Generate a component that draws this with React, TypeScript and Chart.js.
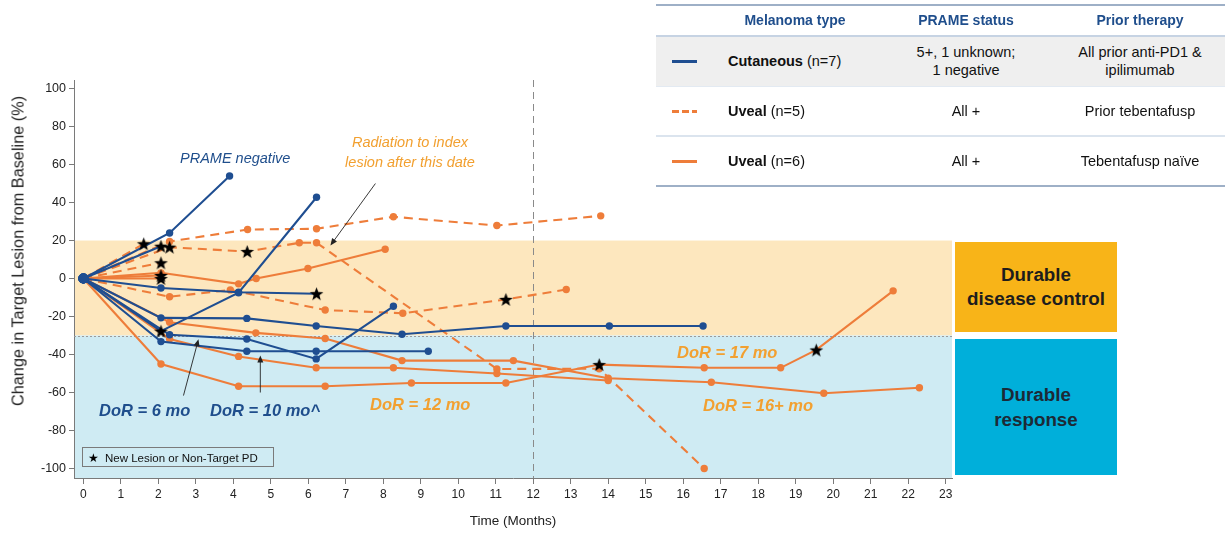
import React, { useEffect, useRef } from "react";
import { Chart, registerables } from "chart.js";
Chart.register(...registerables);

const FONT = 'Arial, "Liberation Sans", Helvetica, sans-serif';
const BLUE = "#1f4e91";
const ORANGE = "#ee7d3a";
const AMBER_TEXT = "#f2a030";

// ---- Data: [months, % change] ----
// Cutaneous (n=7) – solid blue
const cutaneous1: [number, number][] = [[0, 0], [2.3, 24], [3.9, 54]]; // PRAME negative
const cutaneous2: [number, number][] = [[0, 0], [2.07, -27.7], [4.14, -7.5], [6.22, 42.8]];
const cutaneous3: [number, number][] = [[0, 0], [2.07, -5], [4.14, -7.2], [6.22, -8]];
const cutaneous4: [number, number][] = [[0, 0], [2.07, -20.7], [4.36, -21], [6.21, -25], [8.5, -29.3], [11.27, -25], [14.03, -25], [16.53, -25]];
const cutaneous5: [number, number][] = [[0, 0], [2.3, -29.6], [4.36, -31.8], [6.21, -42.3], [8.27, -14.6]];
const cutaneous6: [number, number][] = [[0, 0], [2.07, -33.2], [4.36, -38.3], [6.21, -38.3], [9.2, -38.3]];
const cutaneous7: [number, number][] = [[0, 0], [2.07, 17]];

// Uveal prior tebentafusp (n=5) – dashed orange
const uvealPrior1: [number, number][] = [[0, 0], [2.3, 19.5], [4.38, 25.8], [6.22, 26.2], [8.27, 32.5], [11.03, 27.9], [13.8, 33]];
const uvealPrior2: [number, number][] = [[0, 0], [2.3, 16.5], [4.37, 14.2], [5.76, 18.8], [6.22, 18.8], [11.03, -47.6], [13.76, -47.5], [16.56, -100]];
const uvealPrior3: [number, number][] = [[0, 0], [2.3, -9.6], [3.92, -6], [6.45, -16.6], [8.52, -18.3], [11.27, -11], [12.88, -5.8]];
const uvealPrior4: [number, number][] = [[0, 0], [1.61, 18.3]];
const uvealPrior5: [number, number][] = [[0, 0], [2.07, 8.3]];

// Uveal tebentafusp naive (n=6) – solid orange
const uvealNaive1: [number, number][] = [[0, 0], [2.3, -23], [4.6, -28.6], [6.45, -31.6], [8.5, -43.2], [11.47, -43.2], [14.0, -52.5], [16.75, -54.6], [19.75, -60.4], [22.3, -57.5]];
const uvealNaive2: [number, number][] = [[0, 0], [2.3, -31.8], [4.14, -41], [6.21, -47], [8.27, -47], [11.03, -50], [14.0, -53.7]];
const uvealNaive3: [number, number][] = [[0, 0], [2.07, -45], [4.14, -56.7], [6.45, -56.7], [8.75, -55], [11.27, -55], [13.76, -45.3], [16.56, -47], [18.6, -47], [19.55, -37.6], [21.6, -6.5]];
const uvealNaive4: [number, number][] = [[0, 0], [2.07, 3], [4.14, -2.8], [4.61, 0], [5.99, 5.3], [8.05, 15.4]];
const uvealNaive5: [number, number][] = [[0, 0], [2.07, 1.6]];
const uvealNaive6: [number, number][] = [[0, 0], [2.07, 0]];

// New lesion or non-target PD (stars)
const newLesionPD: [number, number][] = [
  [1.61, 18.3], [2.07, 17], [2.3, 16.5], [4.37, 14.2], [2.07, 8.3], [2.07, 1.6], [2.07, 0],
  [2.07, -27.7], [6.22, -8], [11.27, -11], [13.76, -45.3], [19.55, -37.6],
];

// Axis ticks
const xTicks = [0, 1, 2, 3, 4, 5, 6, 7, 8, 9, 10, 11, 12, 13, 14, 15, 16, 17, 18, 19, 20, 21, 22, 23];
const yTicks = [-100, -80, -60, -40, -20, 0, 20, 40, 60, 80, 100];

// Reference bands / lines
const diseaseControlTop = 20;
const responseTop = -30;
const landmarkMonth = 12;

// Annotation arrows [from, to] in data units
const radiationArrow: [number, number][] = [[7.79, 50], [6.59, 17.4]];
const dor6Arrow: [number, number][] = [[2.67, -61.6], [3.07, -32]];
const dor10Arrow: [number, number][] = [[4.72, -60], [4.72, -40.5]];

function makeStar(size: number) {
  const c = document.createElement("canvas");
  c.width = size;
  c.height = size;
  const g = c.getContext("2d")!;
  const cx = size / 2, cy = size / 2 + 0.6, R = size / 2 - 0.3, r = R * 0.42;
  g.beginPath();
  for (let i = 0; i < 10; i++) {
    const a = -Math.PI / 2 + (i * Math.PI) / 5;
    const rad = i % 2 === 0 ? R : r;
    g.lineTo(cx + rad * Math.cos(a), cy + rad * Math.sin(a));
  }
  g.closePath();
  g.fillStyle = "#000";
  g.fill();
  return c;
}

const T = (props: { x: number; y: number; children: React.ReactNode; style?: React.CSSProperties; center?: boolean }) => (
  <div
    style={{
      position: "absolute",
      left: props.x,
      top: props.y,
      transform: props.center ? "translate(-50%, -50%)" : "translate(0, -50%)",
      whiteSpace: "nowrap",
      fontFamily: FONT,
      ...props.style,
    }}
  >
    {props.children}
  </div>
);

export default function App() {
  const ref = useRef<HTMLCanvasElement>(null);

  useEffect(() => {
    const canvas = ref.current!;
    Chart.defaults.font.family = FONT;
    const star = makeStar(15);
    const isStar = (t: number, v: number) =>
      newLesionPD.some(([st, sv]) => Math.abs(st - t) < 0.06 && Math.abs(sv - v) < 0.8);

    const mk = (pts: [number, number][], color: string, dashed: boolean, isBlue: boolean) => ({
      type: "line" as const,
      data: pts.map(([x, y]) => ({ x, y })),
      borderColor: color,
      backgroundColor: color,
      borderWidth: 2.1,
      borderDash: dashed ? [9, 6] : [],
      pointRadius: pts.map(([t, v], i) => (i === 0 ? (isBlue ? 5 : 0) : isStar(t, v) ? 0 : 3.7)),
      pointBorderWidth: 0,
      pointHoverRadius: 0,
      tension: 0,
      order: isBlue ? 1 : 2,
    });

    const datasets: any[] = [
      {
        type: "scatter",
        data: newLesionPD.map(([x, y]) => ({ x, y })),
        pointStyle: star,
        pointRadius: 7,
        showLine: false,
        order: 0,
      },
      ...[cutaneous1, cutaneous2, cutaneous3, cutaneous4, cutaneous5, cutaneous6, cutaneous7].map((s) => mk(s, BLUE, false, true)),
      ...[uvealPrior1, uvealPrior2, uvealPrior3, uvealPrior4, uvealPrior5].map((s) => mk(s, ORANGE, true, false)),
      ...[uvealNaive1, uvealNaive2, uvealNaive3, uvealNaive4, uvealNaive5, uvealNaive6].map((s) => mk(s, ORANGE, false, false)),
    ];

    const bands = {
      id: "bands",
      beforeDraw(chart: any) {
        const { ctx, chartArea: a, scales } = chart;
        const y = scales.y;
        const y20 = y.getPixelForValue(diseaseControlTop);
        const y30 = y.getPixelForValue(responseTop);
        ctx.save();
        ctx.fillStyle = "#fde7be";
        ctx.fillRect(a.left, y20, a.right - a.left, y30 - y20);
        ctx.fillStyle = "#cfebf3";
        ctx.fillRect(a.left, y30, a.right - a.left, a.bottom - y30);
        ctx.restore();
      },
      beforeDatasetsDraw(chart: any) {
        const { ctx, chartArea: a, scales } = chart;
        const y30 = scales.y.getPixelForValue(responseTop);
        const x12 = scales.x.getPixelForValue(landmarkMonth);
        ctx.save();
        ctx.strokeStyle = "#9a9a9a";
        ctx.lineWidth = 1;
        ctx.setLineDash([2, 2]);
        ctx.beginPath();
        ctx.moveTo(a.left, Math.round(y30) + 0.5);
        ctx.lineTo(a.right, Math.round(y30) + 0.5);
        ctx.stroke();
        ctx.strokeStyle = "#8a8a8a";
        ctx.setLineDash([7, 5]);
        ctx.beginPath();
        ctx.moveTo(Math.round(x12) + 0.5, a.top);
        ctx.lineTo(Math.round(x12) + 0.5, a.bottom);
        ctx.stroke();
        ctx.restore();
      },
      afterDatasetsDraw(chart: any) {
        const { ctx, scales } = chart;
        const draw = (arr: [number, number][]) => {
          const x0 = scales.x.getPixelForValue(arr[0][0]);
          const y0 = scales.y.getPixelForValue(arr[0][1]);
          const x1 = scales.x.getPixelForValue(arr[1][0]);
          const y1 = scales.y.getPixelForValue(arr[1][1]);
          const ang = Math.atan2(y1 - y0, x1 - x0);
          ctx.save();
          ctx.strokeStyle = "#222";
          ctx.fillStyle = "#222";
          ctx.lineWidth = 0.9;
          ctx.beginPath();
          ctx.moveTo(x0, y0);
          ctx.lineTo(x1 - 5 * Math.cos(ang), y1 - 5 * Math.sin(ang));
          ctx.stroke();
          ctx.beginPath();
          ctx.moveTo(x1, y1);
          ctx.lineTo(x1 - 7 * Math.cos(ang) + 3 * Math.sin(ang), y1 - 7 * Math.sin(ang) - 3 * Math.cos(ang));
          ctx.lineTo(x1 - 7 * Math.cos(ang) - 3 * Math.sin(ang), y1 - 7 * Math.sin(ang) + 3 * Math.cos(ang));
          ctx.closePath();
          ctx.fill();
          ctx.restore();
        };
        draw(radiationArrow);
        draw(dor6Arrow);
        draw(dor10Arrow);
      },
    };

    const chart = new Chart(canvas, {
      type: "line",
      data: { datasets },
      options: {
        responsive: false,
        animation: false,
        events: [],
        layout: { padding: { top: 80, right: 273, left: 0, bottom: 0 } },
        plugins: { legend: { display: false }, tooltip: { enabled: false } },
        scales: {
          x: {
            type: "linear",
            min: -0.25,
            max: 23.17,
            afterFit: (s: any) => { s.height = 58; },
            afterBuildTicks: (s: any) => { s.ticks = xTicks.map((v) => ({ value: v })); },
            ticks: { autoSkip: false, maxRotation: 0, color: "#222", font: { size: 12 }, padding: 3, callback: (v: any) => String(v) },
            grid: { display: true, drawOnChartArea: false, drawTicks: true, tickLength: 6, color: "#7a7a7a" },
            border: { display: true, color: "#7a7a7a", width: 1 },
            title: { display: true, text: "Time (Months)", color: "#222", font: { size: 13.5 }, padding: { top: 0, bottom: 7 } },
          },
          y: {
            type: "linear",
            min: -105,
            max: 104.5,
            afterFit: (s: any) => { s.width = 74; },
            afterBuildTicks: (s: any) => { s.ticks = yTicks.map((v) => ({ value: v })); },
            ticks: { color: "#222", font: { size: 12.5 }, padding: 3, callback: (v: any) => String(v) },
            grid: { display: true, drawOnChartArea: false, drawTicks: true, tickLength: 5, color: "#7a7a7a" },
            border: { display: true, color: "#7a7a7a", width: 1 },
            title: { display: false },
          },
        },
      },
      plugins: [bands],
    } as any);
    return () => chart.destroy();
  }, []);

  const tableLine = (y: number, color: string, w: number) => (
    <div style={{ position: "absolute", left: 656, top: y, width: 569, height: w, background: color }} />
  );
  const bodyFont: React.CSSProperties = { fontSize: 14.5, color: "#111" };
  const headFont: React.CSSProperties = { fontSize: 14, fontWeight: "bold", color: "#1f4e8c" };
  const dorBlue: React.CSSProperties = { fontSize: 16.5, fontWeight: "bold", fontStyle: "italic", color: "#1f4e8c" };
  const dorOrange: React.CSSProperties = { fontSize: 16.5, fontWeight: "bold", fontStyle: "italic", color: AMBER_TEXT };

  return (
    <div style={{ position: "absolute", left: 0, top: 0, width: 1225, height: 536, background: "#fff", overflow: "hidden" }}>
      <canvas ref={ref} width={1225} height={536} style={{ position: "absolute", left: 0, top: 0 }} />

      {/* Y axis title */}
      <div style={{ position: "absolute", left: 18, top: 251, transform: "translate(-50%, -50%) rotate(-90deg)", whiteSpace: "nowrap", fontFamily: FONT, fontSize: 16.3, color: "#222" }}>
        Change in Target Lesion from Baseline (%)
      </div>

      {/* Annotations */}
      <T x={180} y={158} style={{ fontSize: 14.5, fontStyle: "italic", color: "#1f4e8c" }}>PRAME negative</T>
      <T x={410} y={142} center style={{ fontSize: 14.5, fontStyle: "italic", color: AMBER_TEXT }}>Radiation to index</T>
      <T x={410} y={162} center style={{ fontSize: 14.5, fontStyle: "italic", color: AMBER_TEXT }}>lesion after this date</T>
      <T x={99} y={410} style={dorBlue}>DoR = 6 mo</T>
      <T x={210} y={410} style={dorBlue}>DoR = 10 mo^</T>
      <T x={370} y={404} style={dorOrange}>DoR = 12 mo</T>
      <T x={677} y={352} style={dorOrange}>DoR = 17 mo</T>
      <T x={703} y={405} style={dorOrange}>DoR = 16+ mo</T>

      {/* In-plot legend */}
      <div style={{ position: "absolute", left: 82, top: 447, width: 192, height: 20, border: "1px solid #7a7a7a", boxSizing: "border-box" }} />
      <T x={88} y={457.5} style={{ fontSize: 12, color: "#000" }}>★</T>
      <T x={105} y={457.5} style={{ fontSize: 11.5, color: "#111" }}>New Lesion or Non-Target PD</T>

      {/* Outcome boxes */}
      <div style={{ position: "absolute", left: 955, top: 242, width: 162, height: 90, background: "#f8b418", display: "flex", alignItems: "center", justifyContent: "center", textAlign: "center", fontFamily: FONT, fontWeight: "bold", fontSize: 18.8, lineHeight: "24px", color: "#1d1d1d" }}>
        Durable<br />disease control
      </div>
      <div style={{ position: "absolute", left: 955, top: 339, width: 162, height: 136, background: "#00afda", display: "flex", alignItems: "center", justifyContent: "center", textAlign: "center", fontFamily: FONT, fontWeight: "bold", fontSize: 18.8, lineHeight: "25px", color: "#1d2a36" }}>
        Durable<br />response
      </div>

      {/* Table */}
      <div style={{ position: "absolute", left: 656, top: 37, width: 569, height: 49, background: "#efefef" }} />
      {tableLine(4, "#9eb0c7", 2)}
      {tableLine(35, "#c6d3e3", 2)}
      {tableLine(86, "#e3eaf2", 1)}
      {tableLine(135, "#dbe4ee", 2)}
      {tableLine(185, "#9eb0c7", 2)}
      <T x={795} y={20} center style={headFont}>Melanoma type</T>
      <T x={966} y={20} center style={headFont}>PRAME status</T>
      <T x={1140} y={20} center style={headFont}>Prior therapy</T>

      <div style={{ position: "absolute", left: 672, top: 60, width: 25, height: 3, background: BLUE }} />
      <T x={728} y={61} style={bodyFont}><b>Cutaneous</b> (n=7)</T>
      <T x={966} y={52} center style={bodyFont}>5+, 1 unknown;</T>
      <T x={966} y={70} center style={bodyFont}>1 negative</T>
      <T x={1140} y={52} center style={bodyFont}>All prior anti-PD1 &amp;</T>
      <T x={1140} y={70} center style={bodyFont}>ipilimumab</T>

      <div style={{ position: "absolute", left: 672, top: 110, width: 7, height: 3, background: ORANGE }} />
      <div style={{ position: "absolute", left: 682, top: 110, width: 7, height: 3, background: ORANGE }} />
      <div style={{ position: "absolute", left: 692, top: 110, width: 5, height: 3, background: ORANGE }} />
      <T x={728} y={111} style={bodyFont}><b>Uveal</b> (n=5)</T>
      <T x={966} y={111} center style={bodyFont}>All +</T>
      <T x={1140} y={111} center style={bodyFont}>Prior tebentafusp</T>

      <div style={{ position: "absolute", left: 672, top: 160, width: 25, height: 3, background: ORANGE }} />
      <T x={728} y={161} style={bodyFont}><b>Uveal</b> (n=6)</T>
      <T x={966} y={161} center style={bodyFont}>All +</T>
      <T x={1140} y={161} center style={bodyFont}>Tebentafusp naïve</T>
    </div>
  );
}
